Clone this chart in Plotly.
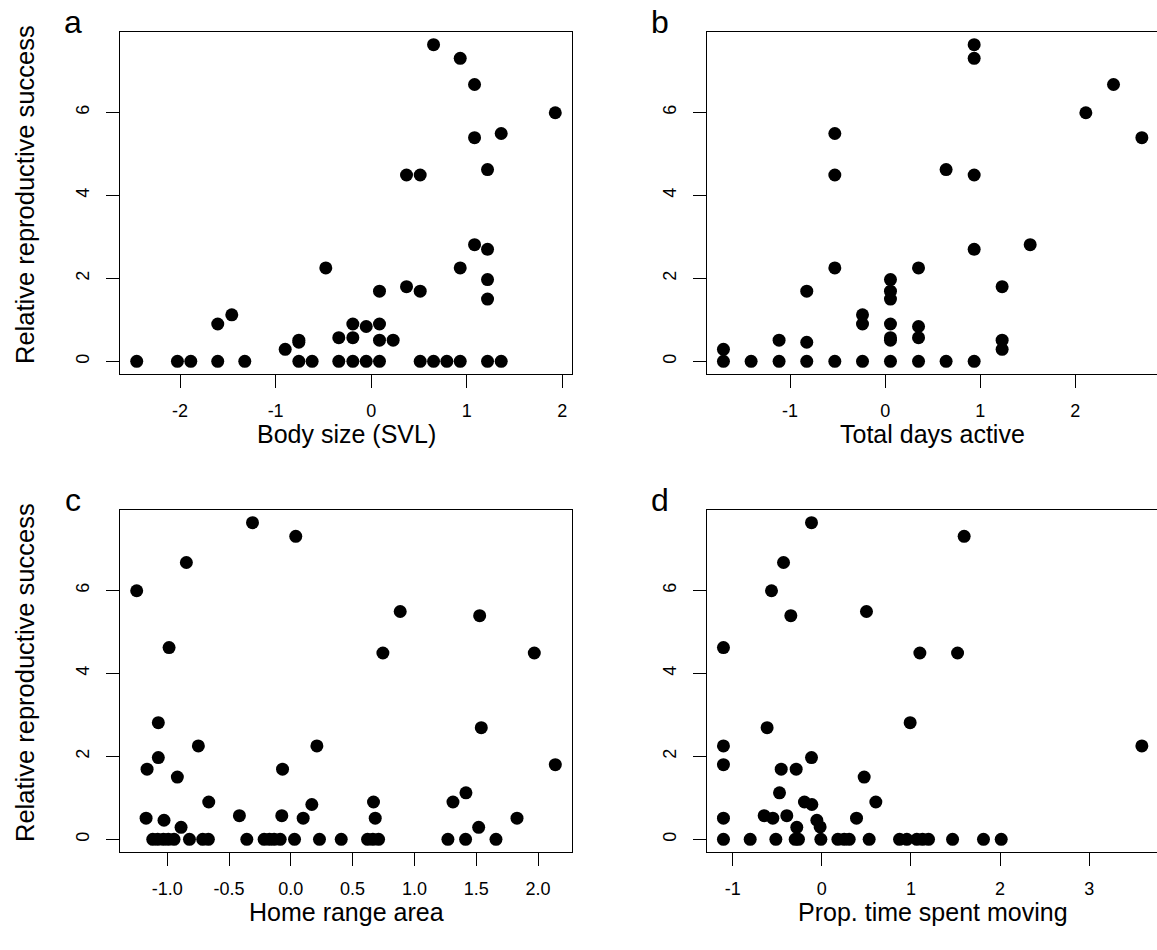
import plotly.graph_objects as go

W, H = 1157, 950

# ---------------- data ----------------
# Panel a: body size (SVL)
svl_x = [0.653, 0.932, 1.082, 1.927, 1.082, 1.361, 1.218, 0.370, 0.513, 1.082,
         1.218, -0.475, 0.932, 1.218, 0.370, 0.513, 0.087, 1.218, -1.606, -1.459,
         -0.192, -0.052, 0.087, -0.339, -0.192, -0.757, -0.757, 0.087, 0.230, -0.900,
         -2.454, -2.028, -1.888, -1.606, -1.323, -0.757, -0.618, -0.339, -0.192, -0.052,
         0.087, 0.513, 0.653, 0.792, 0.932, 1.218, 1.361]
svl_y = [7.63, 7.30, 6.67, 5.99, 5.39, 5.49, 4.62, 4.49, 4.49, 2.81,
         2.70, 2.25, 2.25, 1.97, 1.80, 1.69, 1.69, 1.50, 0.90, 1.12,
         0.90, 0.84, 0.90, 0.57, 0.57, 0.51, 0.46, 0.51, 0.51, 0.29,
         0, 0, 0, 0, 0, 0, 0, 0, 0, 0,
         0, 0, 0, 0, 0, 0, 0]

# Panel b: total days active
days_x = [0.936, 0.936, 2.401, 2.110, 2.699, -0.529, 0.641, -0.529, 0.936, 1.525,
          0.936, -0.529, 0.351, 0.056, 1.230, 0.056, -0.824, 0.056, -0.238, -0.238,
          0.056, 0.351, 0.351, 0.056, 0.056, -1.115, -0.824, 1.230, 1.230, -1.700,
          -1.700, -1.409, -1.115, -0.824, -0.529, -0.238, 0.056, 0.351, 0.641, 0.936]
days_y = [7.63, 7.30, 6.67, 5.99, 5.39, 5.49, 4.62, 4.49, 4.49, 2.81,
          2.70, 2.25, 2.25, 1.97, 1.80, 1.69, 1.69, 1.50, 1.12, 0.90,
          0.90, 0.84, 0.57, 0.57, 0.51, 0.51, 0.46, 0.51, 0.29, 0.29,
          0, 0, 0, 0, 0, 0, 0, 0, 0, 0]

# Panel c: home range area
home_x = [-0.310, 0.040, -0.845, -1.247, 0.885, 1.528, -0.985, 0.745, 1.970, -1.072,
          1.541, -0.748, 0.211, -1.072, 2.140, -1.163, -0.067, -0.918, 1.417, -0.664,
          0.669, 1.312, 0.170, -0.416, -0.073, -1.171, -1.026, 0.100, 0.683, 1.830,
          -0.888, 1.520,
          -1.117, -1.077, -1.031, -0.991, -0.945, -0.820, -0.713, -0.667, -0.356, -0.216,
          -0.173, -0.135, -0.086, 0.030, 0.232, 0.408, 0.621, 0.664, 0.710, 1.271,
          1.414, 1.660]
home_y = [7.63, 7.30, 6.67, 5.99, 5.49, 5.39, 4.62, 4.49, 4.49, 2.81,
          2.69, 2.25, 2.25, 1.97, 1.80, 1.69, 1.69, 1.50, 1.12, 0.90,
          0.90, 0.90, 0.84, 0.57, 0.57, 0.51, 0.46, 0.51, 0.51, 0.51,
          0.29, 0.29,
          0, 0, 0, 0, 0, 0, 0, 0, 0, 0,
          0, 0, 0, 0, 0, 0, 0, 0, 0, 0,
          0, 0]

# Panel d: proportion of time spent moving
move_x = [-0.116, 1.597, -0.430, -0.565, 0.501, -0.348, -1.104, 1.100, 1.523, 0.991,
          -0.614, -1.104, 3.591, -0.116, -1.104, -0.456, -0.288, 0.475, -0.475, -0.195,
          -0.112, 0.606, -1.104, -0.647, -0.550, -0.393, 0.389, -0.056, -0.019, -0.281,
          -1.104, -0.804, -0.516, -0.299, -0.262, -0.011, 0.180, 0.251, 0.307, 0.531,
          0.872, 0.954, 1.066, 1.130, 1.197, 1.467, 1.814, 2.013]
move_y = [7.63, 7.30, 6.67, 5.99, 5.49, 5.39, 4.62, 4.49, 4.49, 2.81,
          2.69, 2.25, 2.25, 1.97, 1.80, 1.69, 1.69, 1.50, 1.12, 0.90,
          0.84, 0.90, 0.51, 0.57, 0.51, 0.57, 0.51, 0.46, 0.30, 0.29,
          0, 0, 0, 0, 0, 0, 0, 0, 0, 0,
          0, 0, 0, 0, 0, 0, 0, 0]

y_ticks = [0, 2, 4, 6]
a_ticks = [-2, -1, 0, 1, 2]
b_ticks = [-1, 0, 1, 2]
c_ticks = [-1.0, -0.5, 0.0, 0.5, 1.0, 1.5, 2.0]
d_ticks = [-1, 0, 1, 2, 3]

x_titles = ["Body size (SVL)", "Total days active", "Home range area", "Prop. time spent moving"]
y_title = "Relative reproductive success"
letters = ["a", "b", "c", "d"]

# ---------------- layout helpers ----------------
FONT = "Liberation Sans, Arial, Helvetica, sans-serif"

def px(x):
    return x / W

def py(y):
    return 1 - y / H

# panel boxes in pixels: (left, top, right, bottom)
boxes = [(120, 32, 572, 374), (706.7, 32, 1158.6, 374),
         (120, 510, 572, 852), (706.7, 510, 1158.6, 852)]
xranges = [(-2.629, 2.102), (-1.876, 2.875), (-1.382, 2.275), (-1.292, 3.779)]
yrange = (-0.305, 7.935)
panels = [(svl_x, svl_y, a_ticks, False), (days_x, days_y, b_ticks, False),
          (home_x, home_y, c_ticks, True), (move_x, move_y, d_ticks, False)]

fig = go.Figure()
annotations = []
for i, ((xs, ys, xt, dec), box, xr) in enumerate(zip(panels, boxes, xranges)):
    l, t, r, b = box
    # clip domain to the page, adjusting the range to keep the scale
    r_cl = min(r, W)
    xr_cl = (xr[0], xr[0] + (xr[1] - xr[0]) * (r_cl - l) / (r - l))
    n = "" if i == 0 else str(i + 1)
    fig.add_trace(go.Scatter(
        x=xs, y=ys, mode="markers", xaxis="x" + n, yaxis="y" + n,
        marker=dict(size=13, color="black", line=dict(width=0)),
        showlegend=False, hoverinfo="x+y"))
    ticktext = [(f"{v:.1f}" if dec else f"{v:d}") for v in xt]
    common = dict(showgrid=False, zeroline=False, showline=True, mirror=True,
                  linecolor="black", linewidth=1, ticks="outside", ticklen=13,
                  tickwidth=1, tickcolor="black",
                  tickfont=dict(family=FONT, size=18, color="black"))
    fig.layout["xaxis" + n] = dict(domain=[px(l), px(r_cl)], range=list(xr_cl),
                                   anchor="y" + n, tickvals=xt, ticktext=ticktext,
                                   ticklabelstandoff=7, **common)
    fig.layout["yaxis" + n] = dict(domain=[py(b), py(t)], range=list(yrange),
                                   anchor="x" + n, tickvals=y_ticks,
                                   ticktext=[str(v) for v in y_ticks],
                                   tickangle=-90, ticklabelstandoff=10, **common)
    # x title (centred on the full, unclipped panel box)
    annotations.append(dict(x=px((l + r) / 2), y=py(b + 60), xref="paper", yref="paper",
                            text=x_titles[i], showarrow=False, xanchor="center",
                            yanchor="middle",
                            font=dict(family=FONT, size=25, color="black")))
    # panel letter
    annotations.append(dict(x=px(l - 47), y=py(t - 10), xref="paper", yref="paper",
                            text=letters[i], showarrow=False, xanchor="center",
                            yanchor="middle",
                            font=dict(family=FONT, size=32, color="black")))
    if i in (0, 2):
        annotations.append(dict(x=px(25), y=py((t + b) / 2 - 8), xref="paper",
                                yref="paper", text=y_title, showarrow=False,
                                textangle=-90, xanchor="center", yanchor="middle",
                                font=dict(family=FONT, size=25.5, color="black")))

fig.update_layout(width=W, height=H, margin=dict(l=0, r=0, t=0, b=0),
                  paper_bgcolor="white", plot_bgcolor="white",
                  annotations=annotations, showlegend=False)

fig.write_html("out.html", config={"displayModeBar": False},
               post_script="document.body.style.margin='0';"
                           "document.body.style.overflow='hidden';")
